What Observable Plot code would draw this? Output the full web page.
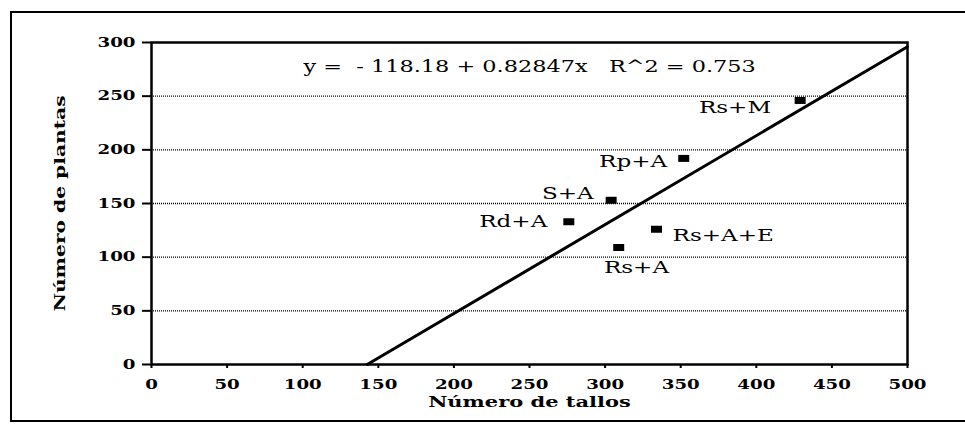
<!DOCTYPE html>
<html><head><meta charset="utf-8">
<script src="https://cdn.jsdelivr.net/npm/d3@7"></script>
<script src="https://cdn.jsdelivr.net/npm/@observablehq/plot@0.6"></script>
<style>
body{margin:0;background:#fff;}
#wrap{position:relative;width:965px;height:425px;overflow:hidden;}
#frame{position:absolute;left:10px;top:11px;width:990px;height:411px;border:2.5px solid #000;box-sizing:border-box;}
#wrap svg{position:absolute;left:0;top:0;}
#wrap svg text{white-space:pre;}
</style></head><body><div id="wrap"><div id="frame"></div></div>
<script>
const treatments = ["Rs+M", "Rp+A", "S+A", "Rd+A", "Rs+A+E", "Rs+A"];
const stems = [429, 352, 304, 276, 334, 309];
const plants = [246, 192, 153, 133, 126, 109];
const fitIntercept = -118.18;
const fitSlope = 0.82847;
const rSquared = 0.753;
const xTicks = [0, 50, 100, 150, 200, 250, 300, 350, 400, 450, 500];
const yTicks = [0, 50, 100, 150, 200, 250, 300];
const gridTicks = [50, 100, 150, 200, 250];
const xTitle = "Número de tallos";
const yTitle = "Número de plantas";

const points = treatments.map((name, i) => ({name, x: stems[i], y: plants[i]}));
const xMax = xTicks[xTicks.length - 1];
const fitLine = [-fitIntercept / fitSlope, xMax].map(x => ({x, y: fitIntercept + fitSlope * x}));
const equation = `y =  - ${Math.abs(fitIntercept).toFixed(2)} + ${fitSlope}x   R^2 = ${rSquared}`;

const rectSymbol = {draw(ctx) { ctx.rect(-5.5, -3.5, 11, 7); }};
const pick = names => points.filter(p => names.includes(p.name));
const labelFont = {fontSize: 16.5, fill: "#000"};

const chart = Plot.plot({
  width: 965, height: 425,
  marginLeft: 151, marginRight: 58, marginTop: 42, marginBottom: 61,
  style: {fontFamily: "'DejaVu Serif', serif", background: "transparent", color: "#000"},
  x: {domain: [0, xMax]},
  y: {domain: [0, yTicks[yTicks.length - 1]]},
  marks: [
    Plot.gridY(gridTicks, {stroke: "#000", strokeOpacity: 1, strokeWidth: 1.3, strokeDasharray: "1,1"}),
    Plot.frame({stroke: "#000", strokeWidth: 2.5}),
    Plot.axisY(yTicks, {tickSize: 9, tickPadding: 7, fontSize: 13, fontWeight: "bold", strokeWidth: 2, label: null}),
    Plot.axisX(xTicks, {tickSize: 4, tickPadding: 11, fontSize: 13, fontWeight: "bold", strokeWidth: 2, label: null}),
    Plot.line(fitLine, {x: "x", y: "y", stroke: "#000", strokeWidth: 3}),
    Plot.dot(points, {x: "x", y: "y", symbol: rectSymbol, fill: "#000", stroke: "none"}),
    Plot.text(pick(["Rs+M"]), {x: "x", y: "y", text: "name", textAnchor: "end", dx: -29, dy: 7, ...labelFont}),
    Plot.text(pick(["Rp+A"]), {x: "x", y: "y", text: "name", textAnchor: "end", dx: -16, dy: 3, ...labelFont}),
    Plot.text(pick(["S+A"]), {x: "x", y: "y", text: "name", textAnchor: "end", dx: -17, dy: -7, ...labelFont}),
    Plot.text(pick(["Rd+A"]), {x: "x", y: "y", text: "name", textAnchor: "end", dx: -21, dy: 0, ...labelFont}),
    Plot.text(pick(["Rs+A+E"]), {x: "x", y: "y", text: "name", textAnchor: "start", dx: 16, dy: 6, ...labelFont}),
    Plot.text(pick(["Rs+A"]), {x: "x", y: "y", text: "name", textAnchor: "middle", dx: 18, dy: 20, ...labelFont}),
    Plot.text([equation], {frameAnchor: "top", dx: 0, dy: 24, fontSize: 16, fill: "#000", lineAnchor: "middle"}),
    Plot.text([xTitle], {frameAnchor: "bottom", dy: 42, fontSize: 15, fontWeight: 600, fill: "#000"}),
    Plot.text([yTitle], {frameAnchor: "left", textAnchor: "middle", rotate: -90, dx: -91, fontSize: 15, fontWeight: "bold", fill: "#000"})
  ]
});
document.getElementById("wrap").appendChild(chart);
// the scanned reference glyphs are stretched along the text direction: widen each text about its own anchor
chart.querySelectorAll("text").forEach(t => {
  const tr = t.getAttribute("transform") || "";
  const k = tr.includes("rotate") ? 1.35 : 1.4;
  const b = t.getBBox();
  const a = getComputedStyle(t).textAnchor;
  const ax = a === "end" ? b.x + b.width : a === "middle" ? b.x + b.width / 2 : b.x;
  t.setAttribute("transform", `${tr} translate(${ax},0) scale(${k},1) translate(${-ax},0)`);
});
</script></body></html>
